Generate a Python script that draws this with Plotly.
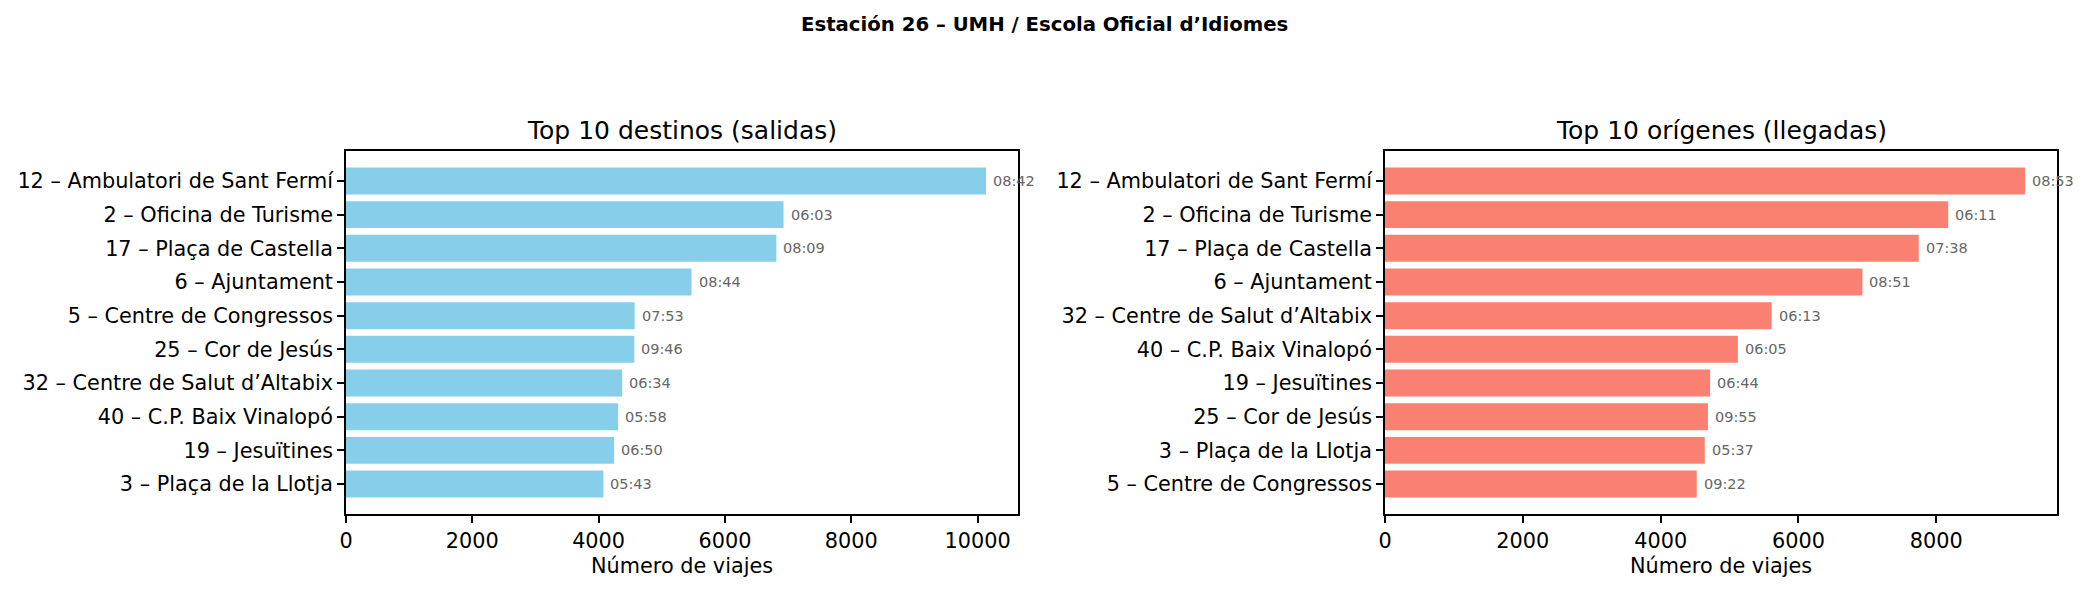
import plotly.graph_objects as go

W, H = 2088, 594

suptitle = "Estación 26 – UMH / Escola Oficial d’Idiomes"
title_left = "Top 10 destinos (salidas)"
title_right = "Top 10 orígenes (llegadas)"
xlabel = "Número de viajes"

dest_labels = [
    "12 – Ambulatori de Sant Fermí",
    "2 – Oficina de Turisme",
    "17 – Plaça de Castella",
    "6 – Ajuntament",
    "5 – Centre de Congressos",
    "25 – Cor de Jesús",
    "32 – Centre de Salut d’Altabix",
    "40 – C.P. Baix Vinalopó",
    "19 – Jesuïtines",
    "3 – Plaça de la Llotja",
]
dest_values = [10134, 6928, 6815, 5471, 4570, 4565, 4374, 4310, 4246, 4076]
dest_times = ["08:42", "06:03", "08:09", "08:44", "07:53", "09:46", "06:34", "05:58", "06:50", "05:43"]

orig_labels = [
    "12 – Ambulatori de Sant Fermí",
    "2 – Oficina de Turisme",
    "17 – Plaça de Castella",
    "6 – Ajuntament",
    "32 – Centre de Salut d’Altabix",
    "40 – C.P. Baix Vinalopó",
    "19 – Jesuïtines",
    "25 – Cor de Jesús",
    "3 – Plaça de la Llotja",
    "5 – Centre de Congressos",
]
orig_values = [9287, 8173, 7745, 6928, 5612, 5120, 4718, 4686, 4640, 4524]
orig_times = ["08:53", "06:11", "07:38", "08:51", "06:13", "06:05", "06:44", "09:55", "05:37", "09:22"]

FONT = "DejaVu Sans"
LEFT_COLOR = "#87CEEB"
RIGHT_COLOR = "#FA8072"

xd1 = [346 / W, 1018 / W]
xd2 = [1385 / W, 2057 / W]
yd = [1 - 514 / H, 1 - 151 / H]

fig = go.Figure()
fig.add_trace(go.Bar(x=dest_values, y=dest_labels, orientation="h", marker_color=LEFT_COLOR,
                     marker_line_width=0, width=0.8, xaxis="x", yaxis="y", hoverinfo="skip"))
fig.add_trace(go.Bar(x=orig_values, y=orig_labels, orientation="h", marker_color=RIGHT_COLOR,
                     marker_line_width=0, width=0.8, xaxis="x2", yaxis="y2", hoverinfo="skip"))

annotations = []
for vals, labs, times, xr, yr in [(dest_values, dest_labels, dest_times, "x", "y"),
                                   (orig_values, orig_labels, orig_times, "x2", "y2")]:
    for v, l, t in zip(vals, labs, times):
        annotations.append(dict(x=v, y=l, xref=xr, yref=yr, text=t, showarrow=False,
                                xanchor="left", yanchor="middle", xshift=5,
                                font=dict(family=FONT, size=14.5, color="#666666")))

annotations.append(dict(x=0.5, y=1 - 24 / H, xref="paper", yref="paper", text="<b>" + suptitle + "</b>",
                        showarrow=False, xanchor="center", yanchor="middle",
                        font=dict(family=FONT, size=19.7, color="black")))
for dom, t in [(xd1, title_left), (xd2, title_right)]:
    annotations.append(dict(x=(dom[0] + dom[1]) / 2, y=1 - 130 / H, xref="paper", yref="paper", text=t,
                            showarrow=False, xanchor="center", yanchor="middle",
                            font=dict(family=FONT, size=25, color="black")))
    annotations.append(dict(x=(dom[0] + dom[1]) / 2, y=1 - 566 / H, xref="paper", yref="paper", text=xlabel,
                            showarrow=False, xanchor="center", yanchor="middle",
                            font=dict(family=FONT, size=20.8, color="black")))

axis_common = dict(showline=True, linecolor="black", linewidth=1.6, mirror=True, ticks="outside",
                   ticklen=7, tickwidth=1.6, tickcolor="black", showgrid=False, zeroline=False,
                   automargin=False, tickfont=dict(family=FONT, size=20.8, color="black"))

n = len(dest_labels)
fig.update_layout(
    width=W, height=H, margin=dict(l=0, r=0, t=0, b=0),
    paper_bgcolor="white", plot_bgcolor="white", showlegend=False,
    annotations=annotations,
    xaxis=dict(domain=xd1, anchor="y", range=[0, max(dest_values) * 1.05], dtick=2000,
               tickformat="d", **axis_common),
    yaxis=dict(domain=yd, anchor="x", type="category", categoryorder="array", categoryarray=dest_labels,
               range=[n - 1 + 0.89, -0.89], **axis_common),
    xaxis2=dict(domain=xd2, anchor="y2", range=[0, max(orig_values) * 1.05], dtick=2000,
                tickformat="d", **axis_common),
    yaxis2=dict(domain=yd, anchor="x2", type="category", categoryorder="array", categoryarray=orig_labels,
                range=[n - 1 + 0.89, -0.89], **axis_common),
)

fig.write_html("out.html")
